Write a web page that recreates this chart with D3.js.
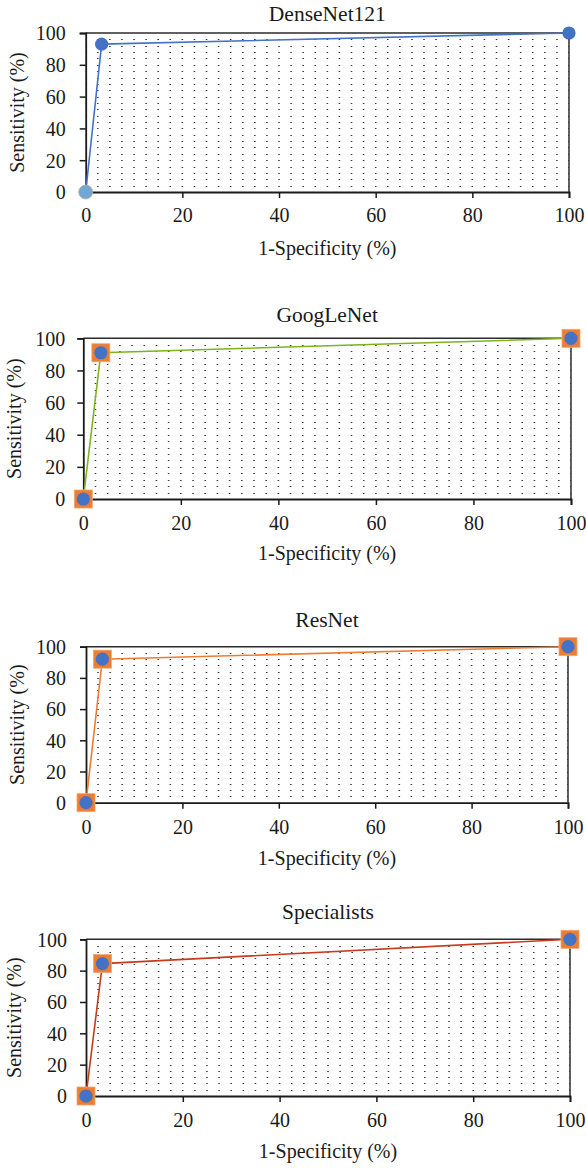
<!DOCTYPE html>
<html>
<head>
<meta charset="utf-8">
<script src="https://cdn.jsdelivr.net/npm/d3@7"></script>
<style>
  html, body { margin: 0; padding: 0; background: #fff; }
  svg { display: block; }
  text { font-family: "Liberation Serif", "Times New Roman", serif; fill: #1a1a1a; }
</style>
</head>
<body>
<svg id="chart" width="586" height="1168"></svg>
<script>
// ---- data ----
const panelTitles = ["DenseNet121", "GoogLeNet", "ResNet", "Specialists"];
const densenetFPR = [0, 3.3, 100];
const densenetTPR = [0, 93, 100];
const googlenetFPR = [0, 3.6, 100];
const googlenetTPR = [0, 91, 100];
const resnetFPR = [0, 3.4, 100];
const resnetTPR = [0, 92, 100];
const specialistsFPR = [0, 3.4, 100];
const specialistsTPR = [0, 84.5, 100];
const xTicks = [0, 20, 40, 60, 80, 100];
const yTicks = [0, 20, 40, 60, 80, 100];
const xAxisTitle = "1-Specificity (%)";
const yAxisTitle = "Sensitivity (%)";

// ---- layout & style ----
const SERIF = '"Liberation Serif", "Times New Roman", serif';
const panels = [
  { fpr: densenetFPR, tpr: densenetTPR, color: "#4472C4", squares: false,
    left: 85.7, right: 569, top: 33, bottom: 192, titleY: 20.5, tickY: 222, labelY: 255, yLabelX: 17, pad: 14 },
  { fpr: googlenetFPR, tpr: googlenetTPR, color: "#7DB41E", squares: true,
    left: 83.3, right: 571, top: 338.3, bottom: 499, titleY: 322, tickY: 530, labelY: 560, yLabelX: 13.5, pad: 12 },
  { fpr: resnetFPR, tpr: resnetTPR, color: "#ED7D31", squares: true,
    left: 86, right: 568, top: 646.7, bottom: 802.7, titleY: 627, tickY: 834, labelY: 865, yLabelX: 16.5, pad: 14 },
  { fpr: specialistsFPR, tpr: specialistsTPR, color: "#C63B1F", squares: true,
    left: 86, right: 570, top: 939.3, bottom: 1096, titleY: 919, tickY: 1127, labelY: 1158, yLabelX: 14, pad: 13 }
];

const svg = d3.select("#chart");

panels.forEach((p, i) => {
  const g = svg.append("g");
  const x = d3.scaleLinear().domain([0, 100]).range([p.left, p.right]);
  const y = d3.scaleLinear().domain([0, 100]).range([p.bottom, p.top]);

  // dotted grid: horizontal dashed rows every 4 units, dashes aligned to 2.5-unit columns
  const colStep = x(2.5) - x(0);
  const rows = d3.range(4, 100, 4);
  g.append("g").selectAll("line").data(rows).join("line")
    .attr("x1", x(0)).attr("x2", x(100))
    .attr("y1", d => Math.round(y(d)) + 0.5).attr("y2", d => Math.round(y(d)) + 0.5)
    .attr("stroke", "#3a3a3a").attr("stroke-width", 1)
    .attr("stroke-dasharray", `1.6 ${colStep - 1.6}`)
    .attr("stroke-dashoffset", -(colStep - 0.8));

  // frame (top and right)
  g.append("line").attr("x1", x(0)).attr("x2", x(100)).attr("y1", y(100)).attr("y2", y(100))
    .attr("stroke", "#2b2b2b").attr("stroke-width", 1.5);
  g.append("line").attr("x1", x(100)).attr("x2", x(100)).attr("y1", y(100)).attr("y2", y(0))
    .attr("stroke", "#2b2b2b").attr("stroke-width", 1.5);

  // axes
  const xAxis = d3.axisBottom(x).tickValues(xTicks).tickSize(6).tickPadding(0).tickFormat(d3.format("d"));
  const yAxis = d3.axisLeft(y).tickValues(yTicks).tickSize(6).tickPadding(p.pad).tickFormat(d3.format("d"));

  const gx = g.append("g").attr("transform", `translate(0,${y(0)})`).call(xAxis);
  const gy = g.append("g").attr("transform", `translate(${x(0)},0)`).call(yAxis);
  [gx, gy].forEach(a => {
    a.attr("font-family", SERIF).attr("font-size", 20);
    a.select(".domain").attr("stroke", "#1a1a1a").attr("stroke-width", 1.8);
    a.selectAll(".tick line").attr("stroke", "#1a1a1a").attr("stroke-width", 1.5);
    a.selectAll(".tick text").attr("font-family", SERIF).style("font-family", SERIF)
      .style("font-size", "20px").attr("fill", "#1a1a1a");
  });
  gx.selectAll(".tick text").attr("dy", null).attr("y", p.tickY - y(0));
  gy.selectAll(".tick text").attr("dy", "0.34em");

  // line
  const pts = p.fpr.map((v, k) => [v, p.tpr[k]]);
  g.append("path").datum(pts)
    .attr("d", d3.line().x(d => x(d[0])).y(d => y(d[1])))
    .attr("fill", "none").attr("stroke", p.color).attr("stroke-width", 1.6);

  // markers
  const mk = g.append("g");
  if (p.squares) {
    mk.selectAll("rect").data(pts).join("rect")
      .attr("x", d => x(d[0]) - 9).attr("y", d => y(d[1]) - 9)
      .attr("width", 18).attr("height", 18)
      .attr("fill", "#ED7D31").attr("stroke", "#F4A574").attr("stroke-width", 0.8);
    mk.selectAll("circle").data(pts).join("circle")
      .attr("cx", d => x(d[0])).attr("cy", d => y(d[1])).attr("r", 6.6)
      .attr("fill", "#4472C4");
  } else {
    mk.selectAll("circle").data(pts).join("circle")
      .attr("cx", d => x(d[0])).attr("cy", d => y(d[1]))
      .attr("r", (d, k) => k === 0 ? 7 : 6.6)
      .attr("fill", (d, k) => k === 0 ? "#72A6D9" : "#4472C4")
      .attr("stroke", (d, k) => k === 0 ? "#B5B38A" : "none")
      .attr("stroke-width", 0.8);
  }

  // titles
  g.append("text").attr("x", (x(0) + x(100)) / 2).attr("y", p.titleY)
    .attr("text-anchor", "middle").style("font-family", SERIF).style("font-size", "21.5px").text(panelTitles[i]);
  g.append("text").attr("x", (x(0) + x(100)) / 2).attr("y", p.labelY)
    .attr("text-anchor", "middle").style("font-family", SERIF).style("font-size", "20px").text(xAxisTitle);
  g.append("text")
    .attr("transform", `translate(${p.yLabelX},${(y(0) + y(100)) / 2}) rotate(-90)`)
    .attr("text-anchor", "middle").attr("dy", "0.35em")
    .style("font-family", SERIF).style("font-size", "20px").text(yAxisTitle);
});
</script>
</body>
</html>
